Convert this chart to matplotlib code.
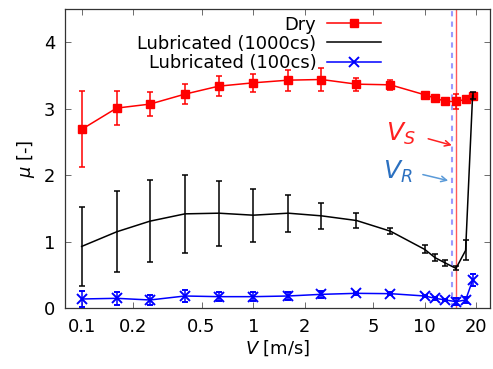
import matplotlib
matplotlib.use("Agg")
import matplotlib.pyplot as plt

# ---- data ----
speed = [0.1, 0.16, 0.25, 0.4, 0.63, 1.0, 1.6, 2.5, 4.0, 6.3, 10, 11.5, 13.2, 15.2, 17.3, 19.0]
dry_mu = [2.69, 3.01, 3.07, 3.22, 3.34, 3.39, 3.43, 3.44, 3.37, 3.36, 3.21, 3.16, 3.11, 3.11, 3.14, 3.19]
dry_err = [0.57, 0.26, 0.18, 0.15, 0.15, 0.14, 0.16, 0.17, 0.10, 0.08, 0.04, 0.03, 0.03, 0.11, 0.05, 0.05]
lub1000_mu = [0.93, 1.15, 1.31, 1.42, 1.43, 1.40, 1.43, 1.39, 1.32, 1.16, 0.885, 0.76, 0.68, 0.60, 0.87, 3.20]
lub1000_err = [0.60, 0.61, 0.62, 0.59, 0.49, 0.40, 0.28, 0.20, 0.12, 0.05, 0.06, 0.05, 0.04, 0.03, 0.15, 0.05]
lub100_mu = [0.14, 0.15, 0.125, 0.185, 0.175, 0.175, 0.185, 0.21, 0.225, 0.22, 0.185, 0.15, 0.125, 0.10, 0.125, 0.42]
lub100_err = [0.12, 0.10, 0.08, 0.09, 0.07, 0.07, 0.06, 0.05, 0.02, 0.02, 0.02, 0.02, 0.02, 0.05, 0.05, 0.09]
labels = ["Dry", "Lubricated (1000cs)", "Lubricated (100cs)"]
V_S = 15.2
V_R = 14.5
xticks = [0.1, 0.2, 0.5, 1, 2, 5, 10, 20]
xticklabels = ["0.1", "0.2", "0.5", "1", "2", "5", "10", "20"]
yticks = [0, 1, 2, 3, 4]

plt.rcParams['font.family'] = ['DejaVu Sans']
FS = 12.9

fig = plt.figure(figsize=(4.93, 3.69), dpi=100)
ax = fig.add_axes([65/493, 1-308.3/369, (490-65)/493, (308.3-9)/369])

ax.axvline(V_S, color='#ff5a5a', lw=1.0, zorder=1)
ax.axvline(V_R, color='#9a9aff', lw=1.5, ls=(0, (2.5, 2.5)), zorder=1)

e1 = ax.errorbar(speed, dry_mu, yerr=dry_err, color='#ff0000', marker='s', ms=6,
                 lw=1.1, elinewidth=1.1, capsize=2.3, capthick=1.1, zorder=3)
e2 = ax.errorbar(speed, lub1000_mu, yerr=lub1000_err, color='black', lw=1.1,
                 elinewidth=1.1, capsize=2.3, capthick=1.1, zorder=4)
e3 = ax.errorbar(speed, lub100_mu, yerr=lub100_err, color='#0000ff', marker='x', ms=6.5,
                 mew=1.4, lw=1.1, elinewidth=1.1, capsize=2.3, capthick=1.1, zorder=5)

ax.set_xscale('log')
ax.set_xlim(0.08, 24)
ax.set_ylim(0, 4.5)
ax.set_xticks(xticks)
ax.set_xticklabels(xticklabels)
ax.xaxis.set_minor_locator(matplotlib.ticker.NullLocator())
ax.set_yticks(yticks)
ax.tick_params(direction='in', length=4.5, width=0.6, color='#555555', top=True, right=True,
               labelsize=FS, pad=7)
for s in ax.spines.values():
    s.set_linewidth(0.9)
    s.set_color('#333333')

ax.set_xlabel(r'$V$ [m/s]', fontsize=FS, labelpad=2)
ax.set_ylabel(r'$\mu$ [-]', fontsize=FS, labelpad=5)

leg = ax.legend([e1[0], e2[0], e3[0]], labels, markerfirst=False, frameon=False,
                fontsize=FS, loc='upper right', bbox_to_anchor=(381/493, 1-15.5/369),
                bbox_transform=fig.transFigure, borderpad=0, borderaxespad=0,
                handlelength=3.0, handletextpad=0.6, labelspacing=0.07)

ax.text(8.8, 2.62, r'$V_S$', color='#ff2020', fontsize=18, ha='right', va='center')
ax.annotate('', xy=(14.9, 2.44), xytext=(10.1, 2.56),
            arrowprops=dict(arrowstyle='->', color='#ff2020', lw=1.1))
ax.text(8.5, 2.05, r'$V_R$', color='#2b70c0', fontsize=18, ha='right', va='center')
ax.annotate('', xy=(14.2, 1.91), xytext=(9.4, 2.02),
            arrowprops=dict(arrowstyle='->', color='#5a9ad8', lw=1.1))

fig.savefig('out.png', dpi=100)
